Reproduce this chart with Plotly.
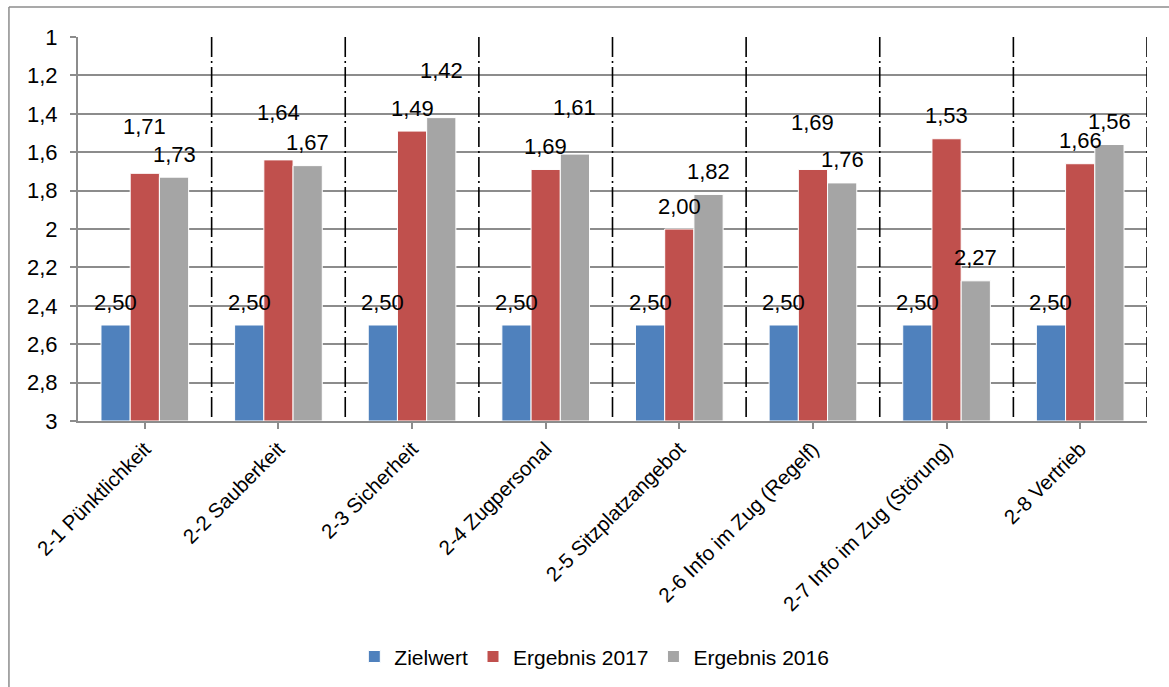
import plotly.graph_objects as go

# Kundenzufriedenheit: Zielwert vs. Ergebnisse 2017 / 2016 (Schulnoten, 1 = best)
categories = [
    "2-1 Pünktlichkeit",
    "2-2 Sauberkeit",
    "2-3 Sicherheit",
    "2-4 Zugpersonal",
    "2-5 Sitzplatzangebot",
    "2-6 Info im Zug (Regelf)",
    "2-7 Info im Zug (Störung)",
    "2-8 Vertrieb",
]
zielwert = [2.50, 2.50, 2.50, 2.50, 2.50, 2.50, 2.50, 2.50]
ergebnis_2017 = [1.71, 1.64, 1.49, 1.69, 2.00, 1.69, 1.53, 1.66]
ergebnis_2016 = [1.73, 1.67, 1.42, 1.61, 1.82, 1.76, 2.27, 1.56]

y_tick_vals = [1, 1.2, 1.4, 1.6, 1.8, 2, 2.2, 2.4, 2.6, 2.8, 3]
y_tick_text = ["1", "1,2", "1,4", "1,6", "1,8", "2", "2,2", "2,4", "2,6", "2,8", "3"]

series = [
    ("Zielwert", zielwert, "#4F81BD"),
    ("Ergebnis 2017", ergebnis_2017, "#C0504D"),
    ("Ergebnis 2016", ergebnis_2016, "#A5A5A5"),
]

# labels lifted one line higher to avoid overlapping neighbours (series index, category index)
raised_labels = {(1, 0), (1, 1), (2, 2), (2, 3), (1, 5)}

BASE = 3.0
FONT = "Arial, Liberation Sans, sans-serif"
BAR_GAP = 0.344
slot = (1 - BAR_GAP) / 3

fig = go.Figure()
for name, values, color in series:
    fig.add_trace(go.Bar(
        name=name,
        x=list(range(len(categories))),
        y=[v - BASE for v in values],
        base=[BASE] * len(values),
        marker=dict(color=color, line=dict(color="white", width=1)),
        hoverinfo="skip",
    ))

annotations = []
for s_idx, (name, values, color) in enumerate(series):
    for c_idx, v in enumerate(values):
        lift = 47 if (s_idx, c_idx) in raised_labels else 23
        annotations.append(dict(
            x=c_idx + (s_idx - 1) * slot,
            y=v,
            xref="x", yref="y",
            text=f"{v:.2f}".replace(".", ","),
            showarrow=False,
            yanchor="middle",
            xanchor="center",
            yshift=lift,
            font=dict(family=FONT, size=22, color="black"),
        ))

shapes = []
# dash-dot separators between categories and at the right edge
for b in range(1, len(categories) + 1):
    shapes.append(dict(
        type="line", xref="x", yref="y",
        x0=b - 0.5, x1=b - 0.5, y0=1, y1=3,
        line=dict(color="black", width=1.6, dash="20px,4px,2px,4px"),
        layer="above",
    ))
# chart area frame (top and left edges)
shapes.append(dict(type="line", xref="paper", yref="paper",
                   x0=-0.0646, x1=1.05, y0=1.078, y1=1.078,
                   line=dict(color="#8c8c8c", width=1.5)))
shapes.append(dict(type="line", xref="paper", yref="paper",
                   x0=-0.0646, x1=-0.0646, y0=1.078, y1=-0.75,
                   line=dict(color="#8c8c8c", width=1.5)))

fig.update_layout(
    width=1169, height=687,
    margin=dict(l=78, r=22, t=37, b=265),
    paper_bgcolor="white",
    plot_bgcolor="white",
    barmode="group",
    bargap=BAR_GAP,
    bargroupgap=0,
    font=dict(family=FONT, size=21, color="black"),
    showlegend=True,
    legend=dict(
        orientation="h",
        x=0.483, xanchor="center",
        y=-0.61, yanchor="middle",
        font=dict(family=FONT, size=21, color="black"),
        itemwidth=30,
        traceorder="normal",
    ),
    annotations=annotations,
    shapes=shapes,
)

fig.update_xaxes(
    tickmode="array",
    tickvals=list(range(len(categories))),
    ticktext=categories,
    range=[-0.5, len(categories) - 0.5],
    tickangle=-45,
    tickfont=dict(family=FONT, size=20.5, color="black"),
    showline=True, linecolor="#8c8c8c", linewidth=2,
    ticks="outside", ticklen=6, tickcolor="#8c8c8c", tickwidth=1.5,
    tickson="boundaries",
    showgrid=False,
    zeroline=False,
)

fig.update_yaxes(
    range=[3, 1],
    tickmode="array",
    tickvals=y_tick_vals,
    ticktext=y_tick_text,
    tickfont=dict(family=FONT, size=22, color="black"),
    showline=True, linecolor="#8c8c8c", linewidth=2,
    ticks="outside", ticklen=6, tickcolor="#8c8c8c", tickwidth=1.5,
    ticklabelstandoff=8,
    showgrid=True, gridcolor="#8c8c8c", gridwidth=1.5,
    zeroline=False,
)

fig.write_html("out.html")
